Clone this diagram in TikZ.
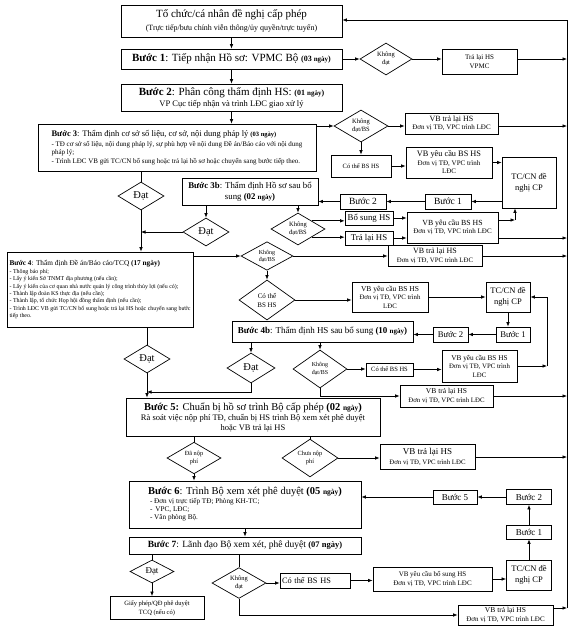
\documentclass[tikz,border=0pt]{standalone}
\usepackage{fontspec}
\setmainfont{Liberation Serif}
\usetikzlibrary{shapes.geometric,arrows.meta,calc}
\newcommand\fz[2]{\fontsize{#1}{#2}\selectfont}
\begin{document}
\begin{tikzpicture}[x=1pt,y=-1pt,
  bx/.style={draw,line width=0.8pt,inner sep=1pt,align=center,fill=white},
  dm/.style={diamond,draw,line width=0.7pt,inner sep=0pt,align=center},
  ar/.style={-{Latex[length=4.5pt,width=3.6pt]},line width=0.7pt},
  ln/.style={line width=0.7pt}]
\useasboundingbox (0,0) rectangle (576,635);
% ---------- nodes ----------
\node[bx,minimum width=221pt,minimum height=32pt,font=\fz{8}{12.5}] (top) at (231.5,21)
  {{\fz{11}{13}Tổ chức/cá nhân đề nghị cấp phép}\\(Trực tiếp/bưu chính viễn thông/ủy quyền/trực tuyến)};
\node[bx,minimum width=221pt,minimum height=20pt,font=\fz{11}{13}] (b1) at (231.5,59)
  {\textbf{Bước 1}: Tiếp nhận Hồ sơ: VPMC Bộ {\bfseries\fz{8}{9}(03 {\fz{7}{8}ngày})}};
\node[dm,minimum width=52pt,minimum height=32pt,font=\fz{6.5}{7.5}] (d1) at (386,59) {Không\\đạt};
\node[bx,minimum width=75pt,minimum height=25pt,font=\fz{7}{9}] (tl1) at (479.5,62) {Trả lại HS\\VPMC};
\node[bx,minimum width=221pt,minimum height=27pt,font=\fz{8.5}{11}] (b2) at (231.5,97.5)
  {{\fz{11}{13}\textbf{Bước 2}: Phân công thẩm định HS: {\bfseries\fz{8}{9}(01 {\fz{7}{8}ngày})}}\\VP Cục tiếp nhận và trình LĐC giao xử lý};
\node[bx,minimum width=278pt,minimum height=47pt,align=left,font=\fz{7}{8.3}] (b3) at (177,147.5)
  {{\fz{8.5}{10}\textbf{Bước 3}: Thẩm định cơ sở số liệu, cơ sở, nội dung pháp lý {\bfseries\fz{6.5}{8}(03 ngày)}}\\[2pt]- TĐ cơ sở số liệu, nội dung pháp lý, sự phù hợp về nội dung Đề án/Báo cáo với nội dung\\pháp lý;\\- Trình LĐC VB gửi TC/CN bổ sung hoặc trả lại hồ sơ hoặc chuyển sang bước tiếp theo.};
\node[dm,minimum width=54pt,minimum height=32pt,font=\fz{6.5}{7.5}] (d2) at (361,126) {Không\\đạt/BS};
\node[bx,minimum width=93pt,minimum height=21pt,font=\fz{7}{8.5}] (vbtl2) at (451.5,123.5) {{\fz{8}{9}VB trả lại HS}\\Đơn vị TĐ, VPC trình LĐC};
\node[bx,minimum width=60pt,minimum height=22pt,font=\fz{6.5}{8}] (cothe2) at (361,166) {Có thể BS HS};
\node[bx,minimum width=86pt,minimum height=31pt,font=\fz{7}{8.5}] (vbyc2) at (449,162.5) {{\fz{8.3}{9}VB yêu cầu BS HS}\\Đơn vị TĐ, VPC trình\\LĐC};
\node[bx,minimum width=54pt,minimum height=51pt,font=\fz{8.5}{11}] (tccn1) at (529,182.5) {TC/CN đề\\nghị CP};
\node[bx,minimum width=46pt,minimum height=15pt,font=\fz{9.5}{11}] (b1s) at (448,201.5) {Bước 1};
\node[bx,minimum width=46pt,minimum height=15pt,font=\fz{9.5}{11}] (b2s) at (363,201.5) {Bước 2};
\node[bx,minimum width=136pt,minimum height=27pt,font=\fz{8.8}{11}] (b3b) at (250,191.5)
  {\textbf{Bước 3b}: Thẩm định Hồ sơ sau bổ\\sung {\bfseries(02 {\fz{7}{8}ngày})}};
\node[dm,minimum width=46pt,minimum height=28pt,font=\fz{10.5}{12}] (dL1) at (141,196) {Đạt};
\node[dm,minimum width=46pt,minimum height=28pt,font=\fz{10.5}{12}] (d3bd) at (206,232) {Đạt};
\node[dm,minimum width=54pt,minimum height=32pt,font=\fz{6.5}{7.5}] (d3bk) at (298,229) {Không\\đạt/BS};
\node[bx,minimum width=48pt,minimum height=14pt,font=\fz{8.8}{10}] (bosung) at (369,218) {Bổ sung HS};
\node[bx,minimum width=48pt,minimum height=14pt,font=\fz{8.8}{10}] (tralai) at (369,238) {Trả lại HS};
\node[bx,minimum width=91pt,minimum height=31pt,font=\fz{7}{8.5}] (vbyc3) at (452.5,227.5) {{\fz{7.8}{9}VB yêu cầu BS HS}\\Đơn vị TĐ, VPC trình LĐC};
\coordinate (c3) at (515,220);
\node[bx,minimum width=186pt,minimum height=75pt,align=left,font=\fz{5.9}{7.4}] (b4) at (100,289.5)
  {{\fz{7.3}{9}\textbf{Bước 4}: Thẩm định Đề án/Báo cáo/TCQ \textbf{(17 ngày)}}\\[0.5pt]- Thông báo phí;\\- Lấy ý kiến Sở TNMT địa phương (nếu cần);\\- Lấy ý kiến của cơ quan nhà nước quản lý công trình thủy lợi (nếu có);\\- Thành lập đoàn KS thực địa (nếu cần);\\- Thành lập, tổ chức Họp hội đồng thẩm định (nếu cần);\\- Trình LĐC VB gửi TC/CN bổ sung hoặc trả lại HS hoặc chuyển sang bước\\tiếp theo.};
\node[dm,minimum width=52pt,minimum height=26pt,font=\fz{6}{7}] (d4k) at (267,256) {Không\\đạt/BS};
\node[bx,minimum width=94pt,minimum height=21pt,font=\fz{6.8}{8.5}] (vbtl4) at (435,256) {{\fz{8}{9}VB trả lại HS}\\Đơn vị TĐ, VPC trình LĐC};
\node[dm,minimum width=56pt,minimum height=40pt,font=\fz{7}{9}] (d4c) at (267,300) {Có thể\\BS HS};
\node[bx,minimum width=76pt,minimum height=30pt,font=\fz{6.8}{8.5}] (vbyc4) at (390,297) {{\fz{7.5}{9}VB yêu cầu BS HS}\\Đơn vị TĐ, VPC trình\\LĐC};
\node[bx,minimum width=44pt,minimum height=30pt,font=\fz{8.5}{11}] (tccn2) at (508,297) {TC/CN đề\\nghị CP};
\node[bx,minimum width=181pt,minimum height=21pt,font=\fz{9}{11}] (b4b) at (322.5,331.5)
  {\textbf{Bước 4b}: Thẩm định HS sau bổ sung {\bfseries(10 {\fz{7}{8}ngày})}};
\node[bx,minimum width=35pt,minimum height=15pt,font=\fz{8.7}{10}] (b2s4) at (450.5,334.5) {Bước 2};
\node[bx,minimum width=34pt,minimum height=15pt,font=\fz{8.7}{10}] (b1s4) at (513,334.5) {Bước 1};
\node[dm,minimum width=46pt,minimum height=28pt,font=\fz{10.5}{12}] (dL2) at (147,359) {Đạt};
\node[dm,minimum width=48pt,minimum height=30pt,font=\fz{10.5}{12}] (d4bd) at (251,368) {Đạt};
\node[dm,minimum width=54pt,minimum height=38pt,font=\fz{6}{7.5}] (d4bk) at (320,369) {Không\\đạt/BS};
\node[bx,minimum width=47pt,minimum height=13pt,font=\fz{6.5}{8}] (cothe4b) at (389.5,369.5) {Có thể BS HS};
\node[bx,minimum width=75pt,minimum height=32pt,font=\fz{6.8}{8.5}] (vbyc4b) at (479.5,366) {{\fz{7.3}{9}VB yêu cầu BS HS}\\Đơn vị TĐ, VPC trình\\LĐC};
\coordinate (c4) at (547,366);
\node[bx,minimum width=93pt,minimum height=22pt,font=\fz{6.8}{8.5}] (vbtl4b) at (446.5,396) {{\fz{7.5}{9}VB trả lại HS}\\Đơn vị TĐ, VPC trình LĐC};
\coordinate (j1) at (147,392);
\node[bx,minimum width=254pt,minimum height=38pt,font=\fz{8.5}{9.5}] (b5) at (253,417)
  {{\fz{10.5}{12}\textbf{Bước 5:} Chuẩn bị hồ sơ trình Bộ cấp phép {\bfseries(02 {\fz{7.5}{8}ngày})}}\\[1pt]Rà soát việc nộp phí TĐ, chuẩn bị HS trình Bộ xem xét phê duyệt\\hoặc VB trả lại HS};
\node[dm,minimum width=54pt,minimum height=28pt,font=\fz{6.3}{7.5}] (ddn) at (194,458) {Đã nộp\\phí};
\node[dm,minimum width=56pt,minimum height=28pt,font=\fz{6.3}{7.5}] (dcn) at (310,458) {Chưa nộp\\phí};
\node[bx,minimum width=95pt,minimum height=25pt,font=\fz{6.8}{9.5}] (vbtl5) at (427.5,457) {{\fz{9}{10}VB trả lại HS}\\Đơn vị TĐ, VPC trình LĐC};
\node[bx,minimum width=232pt,minimum height=47pt,align=left,font=\fz{7.2}{8}] (b6) at (245,504.5)
  {{\fz{10.5}{12}\textbf{Bước 6}: Trình Bộ xem xét phê duyệt {\bfseries(05 {\fz{7.5}{8}ngày})}}\\[1pt]\hspace*{2pt}- Đơn vị trực tiếp TĐ; Phòng KH-TC;\\\hspace*{2pt}- \,VPC, LĐC;\\\hspace*{2pt}- Văn phòng Bộ.};
\node[bx,minimum width=44pt,minimum height=14pt,font=\fz{9}{10}] (b5s) at (455,497) {Bước 5};
\node[bx,minimum width=45pt,minimum height=15pt,font=\fz{9}{10}] (b2s7) at (529,497) {Bước 2};
\node[bx,minimum width=45pt,minimum height=14pt,font=\fz{9}{10}] (b1s7) at (529,532) {Bước 1};
\node[bx,minimum width=232pt,minimum height=17pt,font=\fz{9.5}{11}] (b7) at (245,545.5)
  {\textbf{Bước 7}: Lãnh đạo Bộ xem xét, phê duyệt {\bfseries\fz{8.5}{9}(07 ngày)}};
\node[dm,minimum width=44pt,minimum height=23pt,font=\fz{9}{10}] (d7d) at (152,571.5) {Đạt};
\node[bx,minimum width=94pt,minimum height=23pt,font=\fz{6.5}{9}] (gp) at (157,608) {Giấy phép/QĐ phê duyệt\\TCQ (nếu có)};
\node[dm,minimum width=54pt,minimum height=30pt,font=\fz{6.5}{7.5}] (d7k) at (239,583) {Không\\đạt};
\node[bx,minimum width=70pt,minimum height=15pt,font=\fz{8.3}{10},text width=66pt,align=left] (cothe7) at (315,580.5) {Có thể BS HS};
\node[bx,minimum width=119pt,minimum height=24pt,font=\fz{7}{9.5}] (vbyc7) at (432.5,579) {VB yêu cầu bổ sung HS\\Đơn vị TĐ, VPC trình LĐC};
\node[bx,minimum width=45pt,minimum height=30pt,font=\fz{8.5}{11}] (tccn3) at (529,575) {TC/CN đề\\nghị CP};
\node[bx,minimum width=95pt,minimum height=20pt,font=\fz{7}{8.5}] (vbtl7) at (505.5,615) {{\fz{7.5}{9}VB trả lại HS}\\Đơn vị TĐ, VPC trình LĐC};
% right return line
\coordinate (rl) at (567,0);
\coordinate (rltop) at (567,20);
\coordinate (rlbot) at (567,608);
\draw[ln] (rlbot) -- (rltop);
\draw[ar] (rltop) -- (rltop -| top.east);
% ---------- connectors ----------
\draw[ar] (top.south) -- (b1.north);
\draw[ar] (b1.east) -- (d1.west);
\draw[ar] (d1.east) -- (d1.east -| tl1.west);
\draw[ar] (d1 -| tl1.east) -- (d1 -| rl);
\draw[ar] (b1.south) -- (b2.north);
\draw[ar] (b2.south) -- (b2.south |- b3.north);
\draw[ar] (d2.west -| b3.east) -- (d2.west);
\draw[ar] (d2.east) -- (d2.east -| vbtl2.west);
\draw[ar] (d2 -| vbtl2.east) -- (d2 -| rl);
\draw[ar] (d2.south) -- (d2.south |- cothe2.north);
\draw[ar] (cothe2.east) -- (cothe2.east -| vbyc2.west);
\draw[ar] (vbyc2.east) -- (vbyc2.east -| tccn1.west);
\draw[ar] (b1s.east -| tccn1.west) -- (b1s.east);
\draw[ar] (b1s.west) -- (b2s.east);
\draw[ar] (b2s.west) -- (b2s.west -| b3b.east);
\draw[ln] (dL1.north |- b3.south) -- (dL1.north);
\draw[ar] (dL1.south) -- (dL1.south |- b4.north);
\draw[ar] (d3bd.north |- b3b.south) -- (d3bd.north);
\draw[ar] (d3bk.north |- b3b.south) -- (d3bk.north);
\draw[ar] (d3bd.west) -- (d3bd.west -| dL1);
\draw[ar] (d3bk.north east) -- (d3bk.north east -| bosung.west);
\draw[ar] (d3bk.south east) -- (d3bk.south east -| tralai.west);
\draw[ar] (bosung.east) -- (bosung.east -| vbyc3.west);
\draw[ar] (tralai.east) -- (tralai.east -| vbyc3.west);
\draw[ar] (c3 -| vbyc3.east) -- (c3);
\draw[ar] (c3) -- (c3 |- tccn1.south);
\draw[ar] (tralai -| vbyc3.east) -- (tralai -| rl);
\draw[ar] (d4k.west -| b4.east) -- (d4k.west);
\draw[ar] (d4k.east) -- (d4k.east -| vbtl4.west);
\draw[ar] (d4k -| vbtl4.east) -- (d4k -| rl);
\draw[ar] (d4k.south) -- (d4c.north);
\draw[ar] (d4c.east) -- (d4c.east -| vbyc4.west);
\draw[ar] (vbyc4.east) -- (vbyc4.east -| tccn2.west);
\draw[ar] (tccn2.south) -- (tccn2.south |- b1s4.north);
\draw[ar] (b1s4.west) -- (b2s4.east);
\draw[ar] (b2s4.west) -- (b2s4.west -| b4b.east);
\draw[ln] (dL2.north |- b4.south) -- (dL2.north);
\draw[ar] (dL2.south) -- (dL2.south |- b5.north);
\draw[ar] (d4bd.north |- b4b.south) -- (d4bd.north);
\draw[ar] (d4bk.north |- b4b.south) -- (d4bk.north);
\draw[ar] (d4bd.south) |- (j1);
\draw[ar] (d4bk.east) -- (d4bk.east -| cothe4b.west);
\draw[ar] (cothe4b.east) -- (cothe4b.east -| vbyc4b.west);
\draw[ar] (vbyc4b.east) -- (c4);
\draw[ar] (c4) |- (tccn2.east);
\draw[ar] (d4bk.south) |- (vbtl4b.west);
\draw[ar] (vbtl4b.east) -- (vbtl4b.east -| rl);
\draw[ln] (ddn.north |- b5.south) -- (ddn.north);
\draw[ln] (dcn.north |- b5.south) -- (dcn.north);
\draw[ar] (dcn.east) -- (dcn.east -| vbtl5.west);
\draw[ar] (vbtl5.east) -- (vbtl5.east -| rl);
\draw[ar] (ddn.south) -- (ddn.south |- b6.north);
\draw[ar] (b5s.west) -- (b5s.west -| b6.east);
\draw[ar] (b2s7.west) -- (b5s.east);
\draw[ar] (b1s7.north) -- (b2s7.south);
\draw[ar] (tccn3.north) -- (b1s7.south);
\draw[ar] (b6.south) -- (b6.south |- b7.north);
\draw[ln] (d7d.north |- b7.south) -- (d7d.north);
\draw[ar] (d7d.south) -- (d7d.south |- gp.north);
\draw[ln] (d7k.north |- b7.south) -- (d7k.north);
\draw[ar] (d7k.east) -- (d7k.east -| cothe7.west);
\draw[ar] (cothe7.east) -- (cothe7.east -| vbyc7.west);
\draw[ar] (vbyc7.east) -- (vbyc7.east -| tccn3.west);
\draw[ar] (d7k.south) |- (vbtl7.west);
\draw[ar] (rlbot -| vbtl7.east) -- (rlbot);
\end{tikzpicture}
\end{document}
